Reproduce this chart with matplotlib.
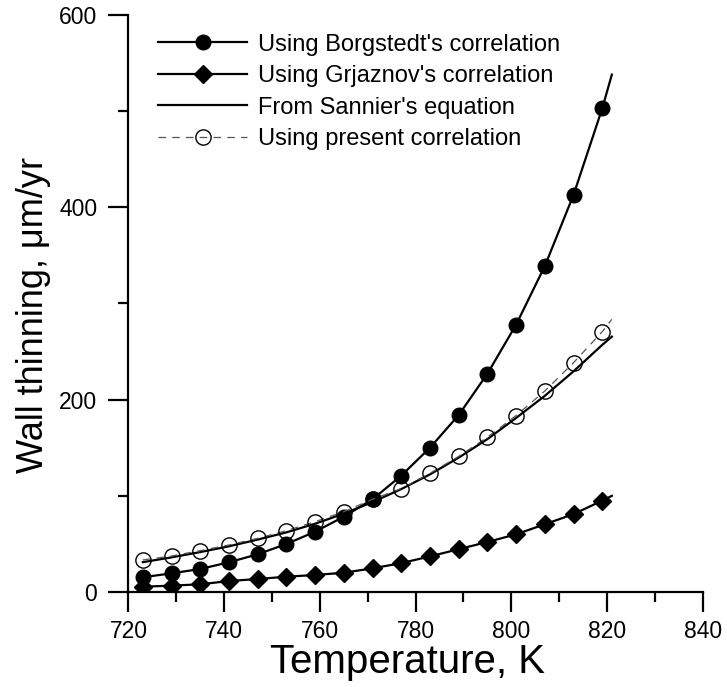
import numpy as np
import matplotlib.pyplot as plt
from matplotlib.ticker import MultipleLocator

plt.rcParams['font.family'] = ['Liberation Sans', 'DejaVu Sans']

# temperatures of the tabulated points, K
temp = [723, 729, 735, 741, 747, 753, 759, 765, 771, 777, 783, 789, 795, 801, 807, 813, 819]
# curves run a little past the last point
temp_line = temp + [821]

borgstedt = [15.3, 19.4, 23.9, 30.9, 39.2, 49.9, 62.7, 78.3, 96.4, 121, 150, 184, 227, 278, 339, 413, 503]
borgstedt_line = borgstedt + [538]

grjaznov = [5.5, 6.6, 8.0, 11.4, 13.5, 15.9, 17.7, 20.0, 24.6, 30, 37, 44.5, 52, 60, 70.4, 81, 95]
grjaznov_line = grjaznov + [100]

sannier = [31, 36, 41.5, 47.5, 54.5, 62, 71, 81.5, 93.5, 107, 122.3, 139.7, 159, 181, 204, 229.5, 257, 265.5]

present = [33.3, 37.4, 43.0, 48.9, 55.8, 63.8, 73.1, 83.5, 96.4, 107.5, 123.4, 141, 161, 183.5, 209, 238.5, 270.7]
present_line = present + [283.5]

fig = plt.figure(figsize=(7.27, 6.87), dpi=100)
ax = fig.add_axes([0.1767, 0.1383, 0.79, 0.8399])

ax.plot(temp_line, borgstedt_line, color='black', lw=1.6)
ax.plot(temp, borgstedt, ls='none', marker='o', ms=10.5, color='black')
ax.plot(temp_line, grjaznov_line, color='black', lw=1.6)
ax.plot(temp, grjaznov, ls='none', marker='D', ms=9.5, color='black')
ax.plot(temp_line, sannier, color='black', lw=1.6)
ax.plot(temp_line, present_line, color='#555555', lw=0.9, dashes=(6, 5))
ax.plot(temp, present, ls='none', marker='o', ms=11, mfc='none', mec='black', mew=1.0)

# legend proxies: line + marker drawn together
h1, = ax.plot([], [], color='black', lw=1.6, marker='o', ms=10.5)
h2, = ax.plot([], [], color='black', lw=1.6, marker='D', ms=9.5)
h3, = ax.plot([], [], color='black', lw=1.6)
h4, = ax.plot([], [], color='#555555', lw=0.9, dashes=(6, 5), marker='o', ms=11, mfc='none', mec='black', mew=1.0)
ax.legend([h1, h2, h3, h4],
          ["Using Borgstedt's correlation", "Using Grjaznov's correlation",
           "From Sannier's equation", "Using present correlation"],
          loc='upper left', bbox_to_anchor=(0.217, 0.951), bbox_transform=fig.transFigure,
          frameon=False, fontsize=17, handlelength=3.8, handletextpad=0.45,
          labelspacing=0.4, borderpad=0, borderaxespad=0)

ax.set_xlim(720, 840)
ax.set_ylim(0, 600)
ax.xaxis.set_major_locator(MultipleLocator(20))
ax.xaxis.set_minor_locator(MultipleLocator(10))
ax.yaxis.set_major_locator(MultipleLocator(200))
ax.yaxis.set_minor_locator(MultipleLocator(100))

for s in ('top', 'right'):
    ax.spines[s].set_visible(False)
for s in ('left', 'bottom'):
    ax.spines[s].set_linewidth(1.6)

ax.tick_params(which='major', direction='out', length=14.5, width=1.6, labelsize=16.5)
ax.tick_params(which='minor', direction='out', length=7.5, width=1.6)
ax.tick_params(axis='y', which='major', pad=8)
ax.tick_params(axis='x', which='major', pad=6)

ax.set_xlabel('Temperature, K', fontsize=29, labelpad=0)
ax.xaxis.label.set_x(0.485)
ax.set_ylabel('Wall thinning, μm/yr', fontsize=26, labelpad=6)
ax.yaxis.label.set_y(0.48)

fig.savefig('out.png', dpi=100)
